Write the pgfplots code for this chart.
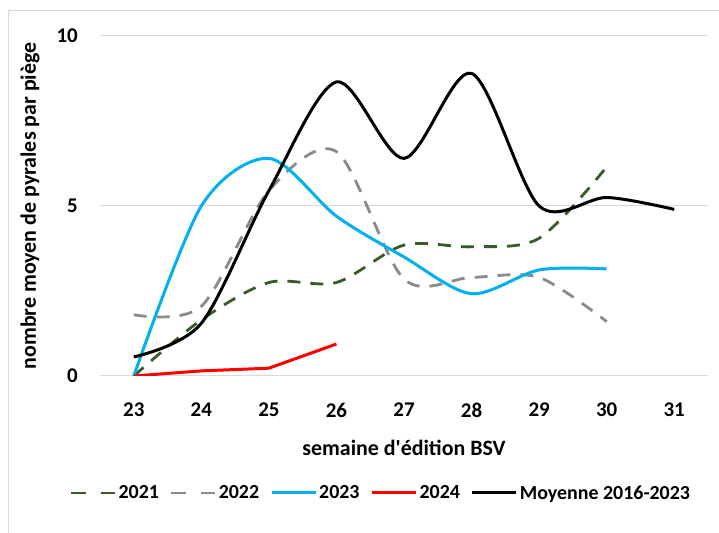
\documentclass[border=0pt]{standalone}
\usepackage{fontspec}
\setmainfont{Carlito}
\newfontfamily\straightfont{Carlito}
\usepackage{pgfplots}
\pgfplotsset{compat=1.18}
\definecolor{cgreen}{HTML}{3A5A28}
\definecolor{cgray}{HTML}{8A8A8A}
\definecolor{cblue}{HTML}{00B0F0}
\definecolor{cred}{HTML}{FF0000}
\definecolor{cgrid}{HTML}{D9D9D9}
\begin{document}
\begin{tikzpicture}[x=1bp,y=1bp]
\useasboundingbox (0,0) rectangle (719,533);
\fill[white] (0,0) rectangle (719,533);
\draw[color=cgrid, line width=1bp] (8,-5) rectangle (730,522);
\begin{axis}[
  at={(100bp,157bp)}, anchor=south west,
  scale only axis, width=608bp, height=340bp,
  xmin=22.5, xmax=31.5, ymin=0, ymax=10,
  xtick={23,...,31}, ytick={0,5,10},
  axis line style={draw=none}, tick style={draw=none},
  ymajorgrids, grid style={color=cgrid, line width=1bp},
  /pgf/number format/assume math mode=true,
  ticklabel style={font=\bfseries\fontsize{21}{23}\selectfont},
  xticklabel style={anchor=center, yshift=-34bp},
  yticklabel style={anchor=east, inner sep=0pt, xshift=-22bp},
  every axis x label/.style={at={(axis description cs:0.5,-0.212)}, anchor=center},
  every axis y label/.style={at={(axis description cs:-0.115,0.5)}, rotate=90, anchor=center},
  label style={font=\bfseries\fontsize{22}{24}\selectfont},
  xlabel={semaine d{\straightfont\bfseries '}édition BSV},
  ylabel={nombre moyen de pyrales par piège},
  legend columns=5,
  legend style={draw=none, fill=none, at={(axis description cs:0.462,-0.344)}, anchor=center,
    font=\bfseries\fontsize{20}{22}\selectfont,
    nodes={inner sep=2bp},
    /tikz/every even column/.append style={column sep=9bp}},
  legend image code/.code={\draw[#1] (0bp,0bp) -- (44bp,0bp);},
]
\addplot[cgreen, line width=2.8bp, dash pattern=on 13bp off 10bp, smooth,
  legend image post style={dash pattern=on 14.5bp off 15bp}] coordinates {
(23,0) (24,1.65) (25,2.75) (26,2.75) (27,3.85) (28,3.8) (29,4.05) (30,6.15)};
\addlegendentry{2021}
\addplot[cgray, line width=2.8bp, dash pattern=on 13bp off 10bp, smooth,
  legend image post style={dash pattern=on 14.5bp off 15bp}] coordinates {
(23,1.8) (24,2.05) (25,5.45) (26,6.6) (27,2.85) (28,2.9) (29,2.9) (30,1.6)};
\addlegendentry{2022}
\addplot[cblue, line width=3bp, smooth] coordinates {
(23,0) (24,5.0) (25,6.4) (26,4.7) (27,3.5) (28,2.42) (29,3.12) (30,3.15)};
\addlegendentry{2023}
\addplot[cred, line width=3bp] coordinates {
(23,0) (24,0.15) (25,0.23) (26,0.94)};
\addlegendentry{2024}
\addplot[black, line width=3bp, smooth] coordinates {
(23,0.56) (24,1.55) (25,5.45) (26,8.65) (27,6.4) (28,8.9) (29,5.0) (30,5.25) (31,4.9)};
\addlegendentry{Moyenne 2016-2023}
\end{axis}
\end{tikzpicture}
\end{document}
